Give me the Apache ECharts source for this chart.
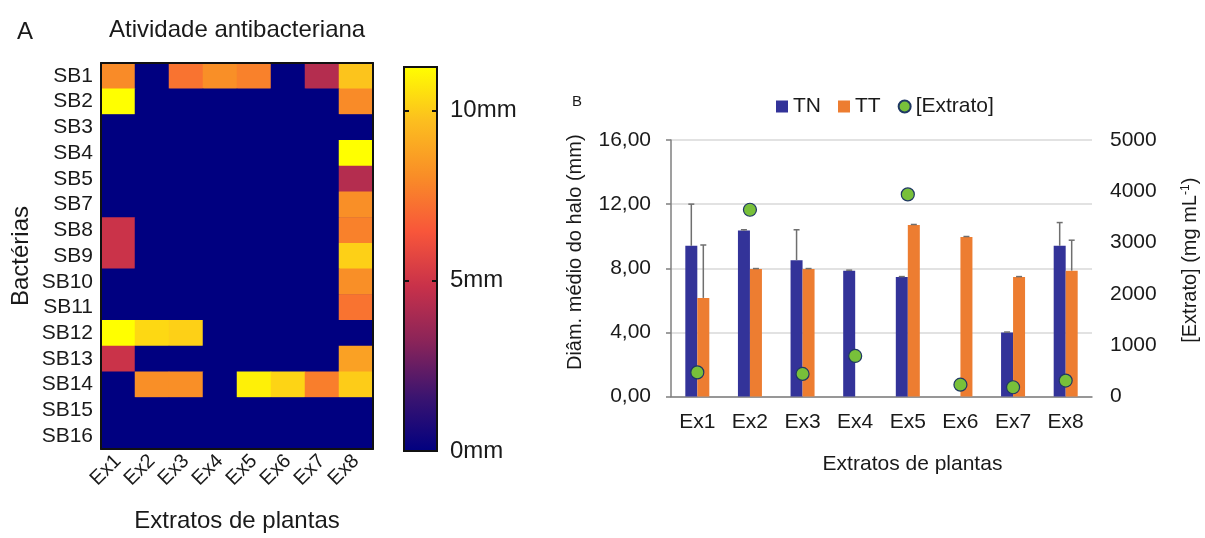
<!DOCTYPE html>
<html>
<head>
<meta charset="utf-8">
<script src="https://cdn.jsdelivr.net/npm/echarts@6/dist/echarts.min.js"></script>
<style>
  html, body { margin: 0; padding: 0; background: #fff; }
  #chart { width: 1205px; height: 538px; }
</style>
</head>
<body>
<div id="chart"></div>
<script>
// painel A - heatmap
const extratos = ['Ex1', 'Ex2', 'Ex3', 'Ex4', 'Ex5', 'Ex6', 'Ex7', 'Ex8'];
const bacterias = ['SB1', 'SB2', 'SB3', 'SB4', 'SB5', 'SB7', 'SB8', 'SB9', 'SB10', 'SB11', 'SB12', 'SB13', 'SB14', 'SB15', 'SB16'];
// halo (mm) por bacteria, na ordem Ex1..Ex8
const haloRows = [
  [8.0, 0, 7.3, 8.1, 7.7, 0, 4.3, 9.8],
  [11.27, 0, 0, 0, 0, 0, 0, 8.0],
  [0, 0, 0, 0, 0, 0, 0, 0],
  [0, 0, 0, 0, 0, 0, 0, 11.27],
  [0, 0, 0, 0, 0, 0, 0, 4.3],
  [0, 0, 0, 0, 0, 0, 0, 8.1],
  [4.9, 0, 0, 0, 0, 0, 0, 7.7],
  [4.9, 0, 0, 0, 0, 0, 0, 10.1],
  [0, 0, 0, 0, 0, 0, 0, 8.1],
  [0, 0, 0, 0, 0, 0, 0, 7.3],
  [11.27, 10.3, 10.1, 0, 0, 0, 0, 0],
  [4.9, 0, 0, 0, 0, 0, 0, 8.7],
  [0, 8.1, 8.1, 0, 10.9, 10.2, 7.6, 10.0],
  [0, 0, 0, 0, 0, 0, 0, 0],
  [0, 0, 0, 0, 0, 0, 0, 0]
];
const haloMax = 11.27;
const colorTicks = [0, 5, 10];
const palette = ['#000080', '#3b1470', '#8a2459', '#c8314a', '#f8563a', '#f98d27', '#fcbe1f', '#ffff00'];

// painel B - barras
const tnMean = [9.4, 10.35, 8.5, 7.85, 7.45, 0, 4.0, 9.4];
const tnErr = [2.6, 0.05, 1.9, 0.03, 0.03, 0, 0.02, 1.45];
const ttMean = [6.15, 7.95, 7.95, 0, 10.7, 9.95, 7.45, 7.85];
const ttErr = [3.3, 0.03, 0.03, 0, 0.03, 0.03, 0.03, 1.9];
const extratoConc = [470, 3640, 440, 790, 3940, 230, 180, 310];

const txt = '#1a1a1a';
const font = 'Liberation Sans, Arial, sans-serif';

const heatData = [];
haloRows.forEach((row, r) => {
  row.forEach((v, c) => heatData.push([c, r, v]));
});

const errSeries = (mean, err, shift) => ({
  type: 'custom',
  xAxisIndex: 3,
  yAxisIndex: 4,
  silent: true,
  z: 5,
  data: mean.map((m, i) => [i, m, err[i]]),
  renderItem: (params, api) => {
    const m = api.value(1);
    if (!m) return;
    const top = api.coord([api.value(0), m + api.value(2)]);
    const base = api.coord([api.value(0), m]);
    const x = top[0] + shift;
    const style = { stroke: '#6f6f6f', lineWidth: 1.5 };
    return {
      type: 'group',
      children: [
        { type: 'line', shape: { x1: x, y1: base[1], x2: x, y2: top[1] }, style },
        { type: 'line', shape: { x1: x - 3, y1: top[1], x2: x + 3, y2: top[1] }, style }
      ]
    };
  }
});

const cbTicks = pos => ({
  type: 'value', gridIndex: 1, min: 0, max: haloMax, position: pos, z: 10,
  splitLine: { show: false },
  axisLine: { show: false, onZero: false },
  axisTick: { inside: true, length: 5, customValues: [5, 10], lineStyle: { color: '#111', width: 2 } },
  axisLabel: pos === 'right'
    ? { customValues: colorTicks, formatter: '{value}mm', fontSize: 24, color: txt, margin: 13 }
    : { show: false }
});

const heatAxis = (data, pos, extra) => Object.assign({
  type: 'category', gridIndex: 0, data, position: pos,
  splitLine: { show: false }, splitArea: { show: false },
  axisLine: { lineStyle: { color: '#111', width: 2 } },
  axisTick: { show: false }, axisLabel: { show: false }
}, extra);

const chart = echarts.init(document.getElementById('chart'));
chart.setOption({
  animation: false,
  textStyle: { fontFamily: font },
  title: [
    { text: 'A', left: 12, top: 15, textStyle: { fontSize: 24, fontWeight: 'normal', color: txt } },
    { text: 'Atividade antibacteriana', left: 104, top: 13, textStyle: { fontSize: 24, fontWeight: 'normal', color: txt } },
    { text: 'B', left: 567, top: 89, textStyle: { fontSize: 15, fontWeight: 'normal', color: txt } }
  ],
  legend: {
    left: 771, top: 91,
    itemWidth: 12, itemHeight: 12, itemGap: 17,
    textStyle: { fontSize: 21, color: txt },
    data: [
      { name: 'TN', icon: 'rect' },
      { name: 'TT', icon: 'rect' },
      { name: '[Extrato]', icon: 'circle' }
    ]
  },
  visualMap: {
    type: 'continuous',
    show: false,
    min: 0, max: haloMax,
    seriesIndex: 0,
    inRange: { color: palette }
  },
  grid: [
    { left: 101, top: 63, width: 272, height: 390, show: true, backgroundColor: palette[0], borderWidth: 0 },
    {
      // barra de cores da escala
      left: 404, top: 67, width: 33, height: 384,
      show: true, borderColor: '#111', borderWidth: 2,
      backgroundColor: new echarts.graphic.LinearGradient(0, 0, 0, 1,
        palette.slice().reverse().map((c, i) => ({ offset: i / (palette.length - 1), color: c })))
    },
    { left: 671, top: 140, right: 113, bottom: 141.5 }
  ],
  xAxis: [
    heatAxis(extratos, 'bottom', {
      z: 10,
      axisTick: { alignWithLabel: true, length: 5, lineStyle: { color: '#111', width: 2 } },
      axisLabel: { interval: 0, rotate: 45, fontSize: 20, color: txt, margin: 9 },
      name: 'Extratos de plantas', nameLocation: 'middle', nameGap: 60,
      nameTextStyle: { fontSize: 24, color: txt }
    }),
    heatAxis(extratos, 'top', { z: 10 }),
    { type: 'value', gridIndex: 1, show: false, min: 0, max: 1 },
    {
      type: 'category', gridIndex: 2, data: extratos,
      axisLine: { lineStyle: { color: '#7f7f7f', width: 1.5 } },
      axisTick: { show: false },
      axisLabel: { fontSize: 21, color: txt, margin: 15 },
      name: 'Extratos de plantas', nameLocation: 'middle', nameGap: 57,
      nameTextStyle: { fontSize: 21, color: txt, padding: [0, 0, 0, 62] }
    }
  ],
  yAxis: [
    heatAxis(bacterias, 'left', {
      inverse: true, z: 10,
      axisTick: { alignWithLabel: true, length: 5, lineStyle: { color: '#111', width: 2 } },
      axisLabel: { interval: 0, fontSize: 21, color: txt, margin: 8 },
      name: 'Bactérias', nameLocation: 'middle', nameGap: 68,
      nameTextStyle: { fontSize: 24, color: txt }
    }),
    heatAxis(bacterias, 'right', { inverse: true, z: 10 }),
    cbTicks('right'),
    cbTicks('left'),
    {
      type: 'value', gridIndex: 2, min: 0, max: 16, interval: 4,
      axisLine: { show: true, lineStyle: { color: '#7f7f7f', width: 1.5 } },
      axisTick: { show: true, length: 5, lineStyle: { color: '#7f7f7f', width: 1.5 } },
      splitLine: { lineStyle: { color: '#d9d9d9', width: 1.5 } },
      axisLabel: { fontSize: 21, color: txt, margin: 20, formatter: v => v.toFixed(2).replace('.', ',') },
      name: 'Diâm. médio do halo (mm)', nameLocation: 'middle', nameGap: 86, nameRotate: 90,
      nameTextStyle: { fontSize: 20, color: txt, padding: [0, 0, 0, 32] }
    },
    {
      type: 'value', gridIndex: 2, min: 0, max: 5000, interval: 1000, position: 'right',
      axisLine: { show: false }, axisTick: { show: false }, splitLine: { show: false },
      axisLabel: { fontSize: 21, color: txt, margin: 18, formatter: v => String(v) },
      name: '{a|[Extrato] (mg mL}{s|-1}{a|)}', nameLocation: 'middle', nameGap: 88, nameRotate: 90,
      nameTextStyle: {
        padding: [0, 0, 0, 16],
        rich: {
          a: { fontSize: 20, color: txt, fontFamily: font },
          s: { fontSize: 12, color: txt, fontFamily: font, verticalAlign: 'top', padding: [0, 0, 8, 0] }
        }
      }
    }
  ],
  series: [
    {
      type: 'heatmap', xAxisIndex: 0, yAxisIndex: 0,
      data: heatData,
      itemStyle: { borderWidth: 0 },
      emphasis: { disabled: true }
    },
    {
      name: 'TN', type: 'bar', xAxisIndex: 3, yAxisIndex: 4,
      data: tnMean, barWidth: 12, barGap: '0%',
      itemStyle: { color: '#333399' }
    },
    {
      name: 'TT', type: 'bar', xAxisIndex: 3, yAxisIndex: 4,
      data: ttMean, barWidth: 12, barGap: '0%',
      itemStyle: { color: '#ed7d31' }
    },
    errSeries(tnMean, tnErr, -6),
    errSeries(ttMean, ttErr, 6),
    {
      name: '[Extrato]', type: 'scatter', xAxisIndex: 3, yAxisIndex: 5,
      data: extratoConc, symbolSize: 13, z: 6,
      itemStyle: { color: '#78c03a', borderColor: '#1f3864', borderWidth: 1.2, opacity: 1 }
    }
  ]
});
</script>
</body>
</html>
